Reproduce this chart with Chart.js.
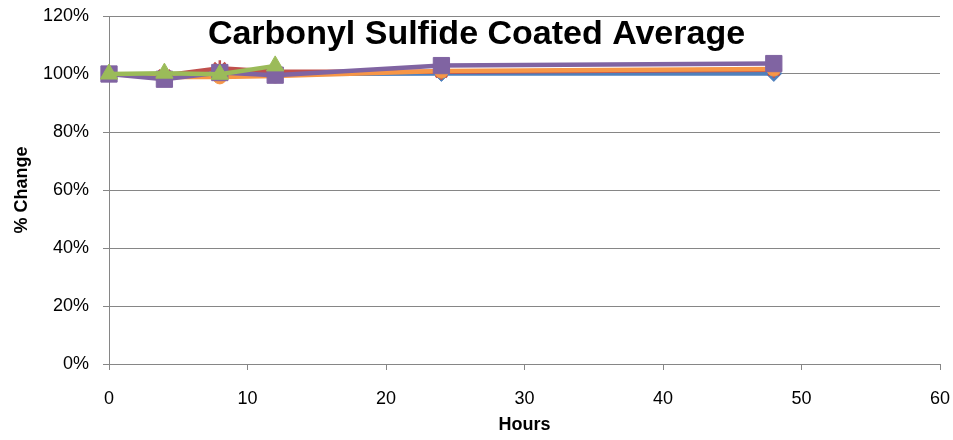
<!DOCTYPE html>
<html>
<head>
<meta charset="utf-8">
<title>Carbonyl Sulfide Coated Average</title>
<script src="https://cdn.jsdelivr.net/npm/chart.js@4.4.1/dist/chart.umd.min.js"></script>
<style>
    html, body { margin: 0; padding: 0; background: #ffffff; }
    #wrap { width: 953px; height: 440px; }
</style>
</head>
<body>
<div id="wrap"><canvas id="coatedChart" width="953" height="440"></canvas></div>
<script>
// Carbonyl sulfide, coated samples - average % change over time

const chartTitle = "Carbonyl Sulfide Coated Average";
const xTitle = "Hours";
const yTitle = "% Change";

const hours = [0, 4, 8, 12, 24, 48];
const hoursShort = [0, 4, 8, 12];

const blueValues = [100, 99.5, 99.5, 100, 100.2, 100.2];
const redValues = [100, 99.5, 102, 100.8, 100.8, 101.5];
const orangeValues = [100, 99, 99, 99.3, 101, 101.7];
const purpleValues = [100, 98.2, 100.5, 99.6, 102.9, 103.6];
const greenValues = [100, 100.3, 99.9, 102.8];

const xTicks = [0, 10, 20, 30, 40, 50, 60];
const yTicks = [0, 20, 40, 60, 80, 100, 120];

function toPoints(xs, ys) {
    return ys.map((y, i) => ({ x: xs[i], y: y }));
}

function makeSeries(xs, ys, color, marker, size) {
    return {
        data: toPoints(xs, ys),
        showLine: true,
        clip: false,
        borderColor: color,
        backgroundColor: color,
        borderWidth: 4.5,
        pointStyle: marker,
        pointRadius: size,
        pointBackgroundColor: color,
        pointBorderColor: color,
        pointBorderWidth: marker === "star" ? 2.5 : 1
    };
}

// first dataset ends up on top, so green goes first and blue last
const datasets = [
    makeSeries(hoursShort, greenValues, "#9BBB59", "triangle", 10),
    makeSeries(hours, purpleValues, "#8064A2", "rect", 11.5),
    makeSeries(hours, orangeValues, "#F79646", "circle", 7),
    makeSeries(hours, redValues, "#C0504D", "star", 8),
    makeSeries(hours, blueValues, "#4F81BD", "rectRot", 8)
];

const gridGray = "#868686";
const tickFont = { family: "'Liberation Sans', Arial, sans-serif", size: 18 };
const axisTitleFont = { family: "'Liberation Sans', Arial, sans-serif", size: 18, weight: "bold" };

// title sits inside the plot area, centred on the whole canvas
const titleOverlay = {
    id: "titleOverlay",
    afterDraw(chart) {
        const ctx = chart.ctx;
        ctx.save();
        ctx.font = "bold 34px 'Liberation Sans', Arial, sans-serif";
        ctx.fillStyle = "#000000";
        ctx.textAlign = "center";
        ctx.textBaseline = "alphabetic";
        ctx.fillText(chartTitle, chart.width / 2, 44);
        ctx.restore();
    }
};

new Chart(document.getElementById("coatedChart"), {
    type: "scatter",
    data: { datasets: datasets },
    options: {
        responsive: false,
        animation: false,
        layout: { padding: { top: 16, right: 13, left: 0, bottom: 0 } },
        plugins: {
            legend: { display: false },
            tooltip: { enabled: false }
        },
        scales: {
            x: {
                type: "linear",
                min: 0,
                max: 60,
                afterFit: (scale) => {
                    scale.height = 76;
                    scale.paddingLeft = 0;
                    scale.paddingRight = 0;
                },
                afterBuildTicks: (scale) => { scale.ticks = xTicks.map(v => ({ value: v })); },
                grid: {
                    drawOnChartArea: false,
                    drawTicks: true,
                    tickLength: 6,
                    color: gridGray
                },
                border: { color: gridGray, width: 1 },
                ticks: { color: "#000000", font: tickFont, padding: 18, maxRotation: 0 },
                title: {
                    display: true,
                    text: xTitle,
                    color: "#000000",
                    font: axisTitleFont,
                    padding: { top: 0, bottom: 4 }
                }
            },
            y: {
                type: "linear",
                min: 0,
                max: 120,
                afterFit: (scale) => {
                    scale.width = 109;
                    scale.paddingTop = 0;
                    scale.paddingBottom = 0;
                },
                afterBuildTicks: (scale) => { scale.ticks = yTicks.map(v => ({ value: v })); },
                grid: {
                    color: gridGray,
                    tickLength: 6
                },
                border: { color: gridGray, width: 1 },
                ticks: {
                    color: "#000000",
                    font: tickFont,
                    padding: 14,
                    callback: (v) => v + "%"
                },
                title: {
                    display: true,
                    text: yTitle,
                    color: "#000000",
                    font: axisTitleFont,
                    padding: { top: 11, bottom: 0 }
                }
            }
        }
    },
    plugins: [titleOverlay]
});
</script>
</body>
</html>
